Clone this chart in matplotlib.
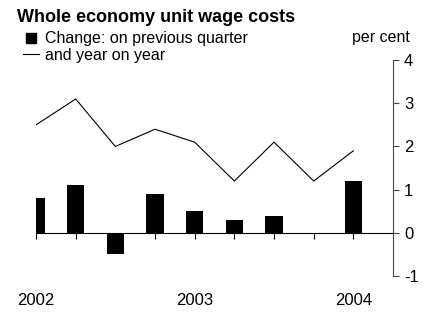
import numpy as np
import matplotlib.pyplot as plt
from matplotlib.lines import Line2D

plt.rcParams['font.family'] = ['Liberation Sans', 'DejaVu Sans']
plt.rcParams['axes.unicode_minus'] = False

# Datos trimestrales 2002 Q1 - 2004 Q1
quarters = np.arange(9)
qoq = [0.8, 1.1, -0.5, 0.9, 0.5, 0.3, 0.4, 0.0, 1.2]   # on previous quarter
yoy = [2.5, 3.1, 2.0, 2.4, 2.1, 1.2, 2.1, 1.2, 1.9]     # year on year
year_pos = [0, 4, 8]
year_labels = ['2002', '2003', '2004']

fig = plt.figure(figsize=(4.36, 3.13), dpi=100)
ax = fig.add_axes([0.0826, 0.118, 0.9014 - 0.0826, 0.808 - 0.118])

ax.bar(quarters, qoq, width=0.43, color='black', zorder=2)
ax.plot(quarters, yoy, color='black', linewidth=0.8, zorder=3)

ax.set_xlim(0, 9)
ax.set_ylim(-1, 4)

# Ejes: derecho con escala, eje x en cero
ax.spines['left'].set_visible(False)
ax.spines['top'].set_visible(False)
ax.spines['bottom'].set_position(('data', 0))
ax.spines['right'].set_linewidth(0.8)
ax.spines['right'].set_color('#444444')
ax.spines['bottom'].set_linewidth(0.8)
ax.yaxis.tick_right()
ax.set_yticks([-1, 0, 1, 2, 3, 4])
ax.tick_params(axis='y', direction='out', length=4, width=0.8, labelsize=12, pad=4,
               color='#444444')
ax.set_xticks(quarters)
ax.set_xticklabels([])
ax.tick_params(axis='x', direction='out', length=4, width=0.8)

for xp, lab in zip(year_pos, year_labels):
    ax.text(xp, -0.111, lab, transform=ax.get_xaxis_transform(),
            ha='center', va='center', fontsize=12)

# Titulo y leyenda
fig.text(0.039, 0.972, 'Whole economy unit wage costs', fontsize=13,
         fontweight='bold', ha='left', va='top')
handles = [Line2D([], [], marker='s', color='black', linestyle='none', markersize=7.5),
           Line2D([], [], color='black', linewidth=0.8)]
fig.legend(handles, ['Change: on previous quarter', 'and year on year'],
           loc='upper left', bbox_to_anchor=(0.053, 0.90), frameon=False,
           fontsize=11.5, handlelength=1.0, handletextpad=0.4,
           labelspacing=0.1, borderpad=0, borderaxespad=0)
fig.text(0.940, 0.879, 'per cent', fontsize=11.5, ha='right', va='center')

plt.savefig('out.png', dpi=100)
